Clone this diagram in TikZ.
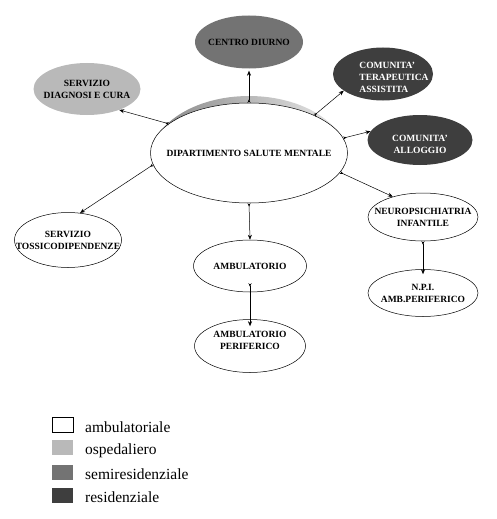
\documentclass[tikz,border=0pt]{standalone}
\usepackage{fontspec}
\setmainfont{Liberation Serif}
\usetikzlibrary{shapes.geometric,arrows.meta}
\definecolor{cLight}{HTML}{B9B9B9}
\definecolor{cMid}{HTML}{737373}
\definecolor{cDark}{HTML}{3E3E3E}
\tikzset{
  ell/.style={ellipse, inner sep=0pt},
  lbl/.style={align=center, inner sep=0pt,
    font=\bfseries\fontsize{9.5}{12}\selectfont},
  wbox/.style={ell, draw=black, fill=white, line width=0.5pt},
  conn/.style={line width=0.5pt,
    {Stealth[length=3.5pt,width=3pt,reversed]}-{Stealth[length=5pt,width=4pt]}},
  legbox/.style={minimum width=21pt, minimum height=15pt, inner sep=0pt, anchor=north west},
  legtxt/.style={anchor=base west, inner sep=0pt, font=\fontsize{15.5}{18}\selectfont}
}
\begin{document}
\begin{tikzpicture}[x=1pt,y=-1pt]
\useasboundingbox (0,0) rectangle (497,519);
% shading crescent behind main ellipse
\begin{scope}
  \clip (150,90) rectangle (350,130);
  \shade[left color=gray!95, right color=gray!15] (249,160) ellipse [x radius=99pt, y radius=64pt];
\end{scope}
\node[wbox, minimum width=197pt, minimum height=100pt,
  label={[lbl]center:DIPARTIMENTO SALUTE MENTALE}] (dip) at (249,153) {};
\node[ell, fill=cMid, minimum width=108pt, minimum height=53pt,
  label={[lbl]center:CENTRO DIURNO}] (cd) at (249,42) {};
\node[ell, fill=cLight, minimum width=107pt, minimum height=52pt,
  label={[lbl]center:SERVIZIO\\DIAGNOSI E CURA}] (sdc) at (87,89) {};
\node[ell, fill=cDark, minimum width=100pt, minimum height=53pt,
  label={[lbl, text=white, align=left, xshift=11pt, yshift=-3pt]center:COMUNITA'\\TERAPEUTICA\\ASSISTITA}] (cta) at (383,74) {};
\node[ell, fill=cDark, minimum width=105pt, minimum height=50pt,
  label={[lbl, text=white, yshift=-4pt]center:COMUNITA'\\ALLOGGIO}] (ca) at (420,140) {};
\node[wbox, minimum width=107pt, minimum height=55pt,
  label={[lbl]center:SERVIZIO\\TOSSICODIPENDENZE}] (tox) at (68,240) {};
\node[wbox, minimum width=113pt, minimum height=52pt,
  label={[lbl]center:AMBULATORIO}] (amb) at (250,266) {};
\node[wbox, minimum width=111pt, minimum height=53pt,
  label={[lbl, yshift=6pt]center:AMBULATORIO\\PERIFERICO}] (ambp) at (250,346) {};
\node[wbox, minimum width=110pt, minimum height=48pt,
  label={[lbl]center:NEUROPSICHIATRIA\\INFANTILE}] (npi) at (423,217) {};
\node[wbox, minimum width=110pt, minimum height=47pt,
  label={[lbl]center:N.P.I.\\AMB.PERIFERICO}] (npip) at (423,293) {};
% connectors
\draw[conn] (dip.north) -- ([yshift=-2pt]cd.south);
\draw[conn] (dip.160) -- (sdc.-33);
\draw[conn] (dip.30) -- (cta.203);
\draw[conn] (dip.9) -- (ca.170);
\draw[conn] (dip.187) -- (tox.66);
\draw[conn] (dip.-12) -- (npi.146);
\draw[conn] (dip.south) -- (amb.north);
\draw[conn] ([yshift=9pt]amb.south) -- ([yshift=-7pt]ambp.north);
\draw[conn] (npi.south) -- ([yshift=-5pt]npip.north);
% legend
\node[legbox, draw=black, fill=white] (l1) at (52,417) {};
\node[legbox, fill=cLight] (l2) at (52,440) {};
\node[legbox, fill=cMid] (l3) at (52,465) {};
\node[legbox, fill=cDark] (l4) at (52,488) {};
\node[legtxt] (t1) at (85,432) {ambulatoriale};
\node[legtxt] (t2) at (85,454) {ospedaliero};
\node[legtxt] (t3) at (85,479) {semiresidenziale};
\node[legtxt] (t4) at (85,502) {residenziale};
\end{tikzpicture}
\end{document}
